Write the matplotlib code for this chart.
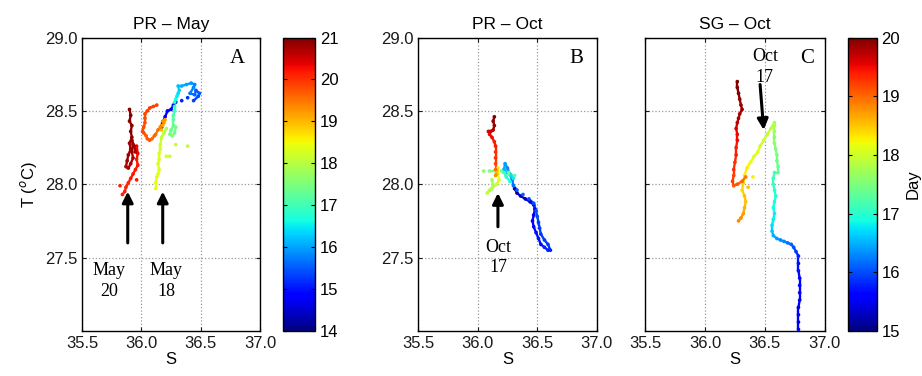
import matplotlib
matplotlib.use("Agg")
import matplotlib.pyplot as plt
from matplotlib.collections import LineCollection
import numpy as np

plt.rcParams['font.family'] = ['Liberation Sans', 'DejaVu Sans']
plt.rcParams['font.size'] = 12

# PR - May track, in time order (salinity, temperature, day); last few are stray dots
s_a = [36.17, 36.18, 36.20, 36.22, 36.25, 36.27, 36.29, 36.34, 36.39, 36.44,
       36.48, 36.49, 36.46, 36.45, 36.41, 36.44, 36.45, 36.42, 36.38, 36.34,
       36.31, 36.32, 36.31, 36.30, 36.29, 36.28, 36.28, 36.28, 36.27, 36.27,
       36.27, 36.25, 36.24, 36.26, 36.28, 36.29,
       36.21, 36.19, 36.17, 36.16, 36.16, 36.15, 36.15, 36.14, 36.15, 36.14,
       36.13, 36.12, 36.12,
       36.17, 36.18, 36.19, 36.20, 36.18,
       36.16, 36.14, 36.12, 36.11, 36.09, 36.07, 36.05, 36.04, 36.02, 36.01,
       36.02, 36.03, 36.03, 36.03, 36.05, 36.07, 36.10, 36.13,
       35.96, 35.97, 35.96, 35.97, 35.95, 35.93, 35.91, 35.89, 35.87, 35.86,
       35.84,
       35.95, 35.94, 35.92, 35.93, 35.92, 35.93, 35.91, 35.89, 35.87, 35.88,
       35.89, 35.91, 35.90, 35.92, 35.91, 35.92, 35.90, 35.91, 35.90,
       36.21, 36.24, 36.29, 36.39, 35.82, 35.96]
t_a = [28.39, 28.42, 28.46, 28.50, 28.51, 28.54, 28.56, 28.57, 28.59, 28.57,
       28.60, 28.62, 28.64, 28.61, 28.62, 28.66, 28.68, 28.69, 28.68, 28.67,
       28.67, 28.64, 28.62, 28.60, 28.58, 28.56, 28.53, 28.50, 28.47, 28.44,
       28.40, 28.37, 28.34, 28.33, 28.35, 28.39,
       28.38, 28.35, 28.32, 28.27, 28.24, 28.21, 28.17, 28.14, 28.10, 28.07,
       28.05, 28.01, 27.97,
       28.37, 28.40, 28.42, 28.44, 28.43,
       28.39, 28.37, 28.34, 28.33, 28.31, 28.30, 28.31, 28.33, 28.35, 28.36,
       28.39, 28.42, 28.45, 28.48, 28.50, 28.52, 28.53, 28.54,
       28.26, 28.21, 28.17, 28.13, 28.10, 28.07, 28.04, 28.01, 27.98, 27.95,
       27.93,
       28.22, 28.26, 28.30, 28.27, 28.22, 28.18, 28.14, 28.11, 28.12, 28.16,
       28.20, 28.24, 28.28, 28.32, 28.36, 28.40, 28.43, 28.47, 28.51,
       28.19, 28.19, 28.27, 28.26, 27.99, 28.03]
d_a = [14.5, 14.6, 14.7, 14.8, 14.9, 15.0, 15.0, 15.1, 15.2, 15.3,
       15.4, 15.5, 15.5, 15.6, 15.7, 15.8, 15.8, 15.9, 16.0, 16.1,
       16.2, 16.3, 16.4, 16.5, 16.6, 16.7, 16.9, 17.0, 17.1, 17.2,
       17.3, 17.4, 17.5, 17.5, 17.4, 17.4,
       17.9, 18.0, 18.1, 18.2, 18.2, 18.3, 18.3, 18.3, 18.3, 18.4,
       18.4, 18.4, 18.4,
       19.0, 19.1, 19.2, 19.2, 19.3,
       19.4, 19.5, 19.5, 19.6, 19.6, 19.7, 19.7, 19.7, 19.8, 19.8,
       19.8, 19.8, 19.8, 19.8, 19.9, 19.9, 19.9, 19.9,
       20.3, 20.3, 20.2, 20.2, 20.2, 20.2, 20.2, 20.1, 20.1, 20.1,
       20.1,
       20.7, 20.8, 20.8, 20.8, 20.8, 20.7, 20.7, 20.7, 20.7, 20.8,
       20.8, 20.8, 20.8, 20.9, 20.9, 20.9, 20.9, 21.0, 21.0,
       18.3, 18.2, 18.1, 18.0, 20.1, 20.2]

# PR - Oct track
s_b = [36.31, 36.33, 36.36, 36.40, 36.44, 36.47, 36.48, 36.47, 36.46, 36.47,
       36.49, 36.51, 36.53, 36.56, 36.59, 36.61, 36.59, 36.56, 36.53, 36.52,
       36.51, 36.50, 36.49, 36.47, 36.43, 36.38, 36.33, 36.30, 36.29, 36.27,
       36.25, 36.23, 36.22, 36.25, 36.28, 36.30, 36.27, 36.24, 36.22, 36.26,
       36.31, 36.26, 36.20, 36.15, 36.10, 36.05,
       36.12, 36.13, 36.10, 36.08, 36.12, 36.16, 36.18, 36.17, 36.17, 36.16,
       36.15, 36.15, 36.15, 36.15, 36.15, 36.15, 36.14, 36.12, 36.10, 36.09,
       36.11, 36.13, 36.14, 36.13, 36.14]
t_b = [27.97, 27.94, 27.92, 27.90, 27.88, 27.86, 27.83, 27.79, 27.75, 27.71,
       27.67, 27.63, 27.59, 27.57, 27.55, 27.55, 27.59, 27.62, 27.66, 27.70,
       27.74, 27.78, 27.82, 27.87, 27.90, 27.93, 27.96, 27.99, 28.03, 28.07,
       28.11, 28.14, 28.10, 28.08, 28.06, 28.04, 28.02, 28.05, 28.08, 28.07,
       28.06, 28.08, 28.09, 28.09, 28.09, 28.09,
       28.03, 27.99, 27.96, 27.94, 27.97, 28.00, 28.03, 28.07, 28.11, 28.07,
       28.06, 28.10, 28.14, 28.18, 28.22, 28.26, 28.29, 28.32, 28.34, 28.36,
       28.36, 28.37, 28.40, 28.43, 28.46]
d_b = [15.1, 15.2, 15.3, 15.3, 15.4, 15.5, 15.5, 15.6, 15.6, 15.6,
       15.7, 15.7, 15.7, 15.8, 15.8, 15.8, 15.9, 15.9, 15.9, 15.9,
       15.9, 16.0, 16.0, 16.0, 16.0, 16.1, 16.1, 16.2, 16.2, 16.3,
       16.3, 16.4, 16.5, 16.6, 16.7, 16.8, 16.9, 17.0, 17.1, 17.2,
       17.3, 17.4, 17.4, 17.5, 17.5, 17.6,
       17.7, 17.8, 17.8, 17.9, 17.9, 18.0, 18.1, 18.2, 18.3, 18.6,
       18.8, 19.0, 19.2, 19.3, 19.3, 19.4, 19.4, 19.5, 19.5, 19.6,
       19.7, 19.8, 19.9, 19.9, 20.0]

# SG - Oct track
s_c = [36.78, 36.78, 36.78, 36.78, 36.79, 36.79, 36.79, 36.79, 36.78, 36.78,
       36.78, 36.76, 36.74, 36.72, 36.69, 36.66, 36.63, 36.60, 36.57, 36.56,
       36.56, 36.57, 36.58, 36.57, 36.58, 36.59, 36.58, 36.57, 36.57, 36.58,
       36.61, 36.61, 36.60, 36.60, 36.59, 36.58, 36.58, 36.58, 36.58, 36.58,
       36.55, 36.52, 36.49, 36.46, 36.44, 36.41, 36.38, 36.35, 36.33, 36.32,
       36.31, 36.33, 36.34, 36.33, 36.32, 36.30, 36.28,
       36.34, 36.31, 36.27, 36.24, 36.23, 36.24, 36.24, 36.25, 36.26, 36.26,
       36.27, 36.27, 36.26, 36.27, 36.28, 36.29, 36.31, 36.30, 36.29, 36.28,
       36.27, 36.27,
       36.40, 36.36]
t_c = [27.01, 27.06, 27.11, 27.16, 27.21, 27.26, 27.31, 27.36, 27.41, 27.46,
       27.51, 27.54, 27.57, 27.59, 27.60, 27.61, 27.62, 27.63, 27.65, 27.68,
       27.72, 27.76, 27.80, 27.84, 27.88, 27.92, 27.96, 28.00, 28.04, 28.08,
       28.08, 28.12, 28.16, 28.20, 28.24, 28.28, 28.32, 28.36, 28.40, 28.42,
       28.38, 28.34, 28.30, 28.26, 28.22, 28.19, 28.15, 28.11, 28.06, 28.01,
       27.96, 27.92, 27.88, 27.84, 27.80, 27.77, 27.75,
       28.05, 28.02, 28.00, 27.99, 28.02, 28.06, 28.10, 28.15, 28.20, 28.25,
       28.30, 28.34, 28.38, 28.42, 28.45, 28.48, 28.51, 28.54, 28.58, 28.62,
       28.66, 28.70,
       28.05, 27.98]
d_c = [15.5, 15.5, 15.5, 15.5, 15.6, 15.6, 15.6, 15.6, 15.7, 15.7,
       15.8, 15.9, 16.0, 16.1, 16.2, 16.3, 16.3, 16.4, 16.5, 16.6,
       16.7, 16.8, 16.8, 16.9, 16.9, 17.0, 17.0, 17.1, 17.1, 17.2,
       17.3, 17.4, 17.4, 17.5, 17.5, 17.6, 17.6, 17.7, 17.8, 17.8,
       17.9, 17.9, 18.0, 18.0, 18.1, 18.1, 18.2, 18.3, 18.3, 18.4,
       18.4, 18.5, 18.5, 18.6, 18.7, 18.8, 18.8,
       18.9, 19.0, 19.1, 19.1, 19.2, 19.2, 19.3, 19.3, 19.4, 19.4,
       19.5, 19.5, 19.6, 19.7, 19.8, 19.8, 19.9, 19.9, 19.9, 20.0,
       20.0, 20.0,
       18.3, 18.5]

titles = ['PR \u2013 May', 'PR \u2013 Oct', 'SG \u2013 Oct']
letters = ['A', 'B', 'C']
letter_x = [0.87, 0.885, 0.90]

fig = plt.figure(figsize=(9.22, 3.76), dpi=100)
ax_a = fig.add_axes([0.089, 0.120, 0.193, 0.780])
cax_a = fig.add_axes([0.307, 0.120, 0.035, 0.780])
ax_b = fig.add_axes([0.4534, 0.120, 0.194, 0.780])
ax_c = fig.add_axes([0.6996, 0.120, 0.195, 0.780])
cax_c = fig.add_axes([0.9197, 0.120, 0.031, 0.780])

tracks = [(s_a, t_a, d_a, 14, 21), (s_b, t_b, d_b, 15, 20), (s_c, t_c, d_c, 15, 20)]
mappables = []
for ax, (s, t, d, lo, hi), title, letter, lx in zip([ax_a, ax_b, ax_c], tracks, titles, letters, letter_x):
    s, t, d = np.array(s), np.array(t), np.array(d)
    # join neighbouring samples only (gaps in the record stay open)
    pts = np.column_stack([s, t])
    segs = np.stack([pts[:-1], pts[1:]], axis=1)
    near = np.hypot(np.diff(s) / 0.05, np.diff(t) / 0.06) < 1.0
    lc = LineCollection(segs[near], cmap='jet', lw=1.7, zorder=2)
    lc.set_array(0.5 * (d[:-1] + d[1:])[near])
    lc.set_clim(lo, hi)
    ax.add_collection(lc)
    sc = ax.scatter(s, t, c=d, cmap='jet', vmin=lo, vmax=hi, s=7, lw=0, zorder=3)
    mappables.append(sc)
    ax.set_xlim(35.5, 37.0)
    ax.set_ylim(27.0, 29.0)
    ax.set_xticks([35.5, 36.0, 36.5, 37.0])
    ax.set_xticklabels(['35.5', '36.0', '36.5', '37.0'])
    ax.set_yticks([27.5, 28.0, 28.5, 29.0])
    ax.set_yticklabels(['27.5', '28.0', '28.5', '29.0'])
    ax.grid(True, ls=':', color='0.6', lw=0.9)
    ax.tick_params(direction='in', top=True, right=True, length=3, labelsize=12, colors='0.1')
    for sp in ax.spines.values():
        sp.set_linewidth(1.0)
    ax.set_title(title, fontsize=12.5, pad=6)
    ax.set_xlabel('S', fontsize=12, labelpad=1)
    ax.text(lx, 0.93, letter, transform=ax.transAxes, ha='center', va='center',
            fontsize=15, family='Liberation Serif')

ax_a.set_ylabel('T ($^o$C)', fontsize=12, labelpad=4)
ax_c.set_yticklabels([])

arrow = dict(arrowstyle='-|>', lw=2.2, color='k', mutation_scale=16, shrinkA=0, shrinkB=0)
serif = dict(fontsize=13, family='Liberation Serif', ha='center', va='center', linespacing=1.25)

ax_a.annotate('', xy=(35.885, 27.95), xytext=(35.885, 27.6), arrowprops=arrow)
ax_a.text(35.73, 27.34, 'May\n20', **serif)
ax_a.annotate('', xy=(36.18, 27.95), xytext=(36.18, 27.6), arrowprops=arrow)
ax_a.text(36.21, 27.34, 'May\n18', **serif)

ax_b.annotate('', xy=(36.17, 27.94), xytext=(36.17, 27.71), arrowprops=arrow)
ax_b.text(36.17, 27.5, 'Oct\n17', **serif)

ax_c.annotate('', xy=(36.49, 28.37), xytext=(36.46, 28.68), arrowprops=arrow)
ax_c.text(36.5, 28.8, 'Oct\n17', **serif)

cb_a = fig.colorbar(mappables[0], cax=cax_a, ticks=range(14, 22))
cb_c = fig.colorbar(mappables[2], cax=cax_c, ticks=range(15, 21))
cb_c.set_label('Day', fontsize=12, labelpad=4)
for cb in (cb_a, cb_c):
    cb.ax.tick_params(direction='in', length=3, labelsize=12, left=True, right=True)
    cb.outline.set_linewidth(1.0)

fig.savefig('out.png', dpi=100)
